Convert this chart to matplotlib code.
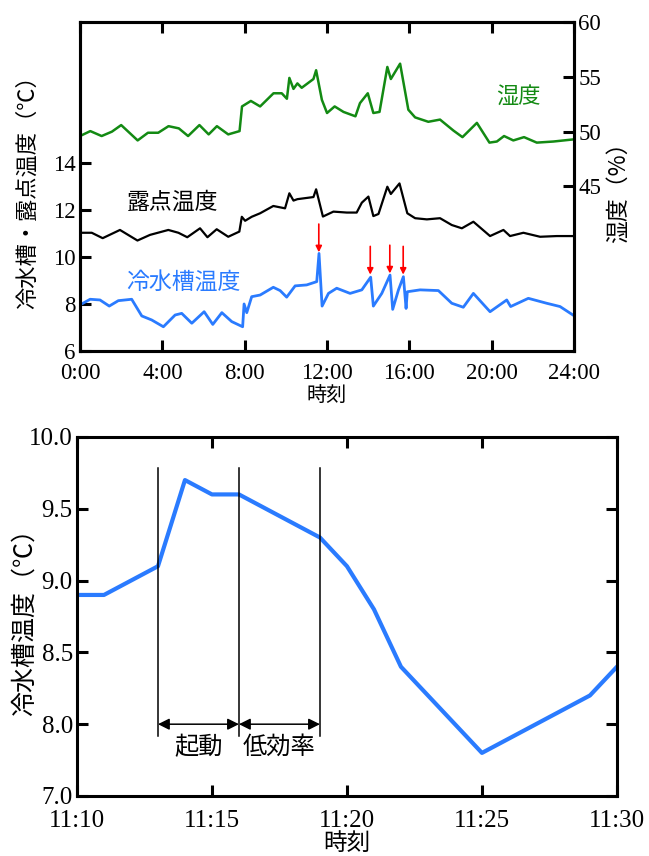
import matplotlib
matplotlib.use("Agg")
import matplotlib.pyplot as plt

JP = ["Noto Sans CJK JP", "DejaVu Sans"]
plt.rcParams["font.family"] = ["Liberation Serif", "DejaVu Serif"]

# --- top chart data (hours, values) ---
hum_t = [0, 0.5, 1.05, 1.55, 2.0, 2.8, 3.3, 3.8, 4.3, 4.8, 5.25, 5.8, 6.25, 6.65, 7.2,
         7.75, 7.87, 8.3, 8.75, 9.4, 9.8, 10.05, 10.17, 10.37, 10.56, 10.77, 11.34, 11.47,
         11.75, 12.0, 12.37, 12.8, 13.38, 13.6, 13.98, 14.25, 14.55, 14.93, 15.1, 15.55,
         15.95, 16.28, 16.92, 17.49, 18.14, 18.58, 19.28, 19.89, 20.25, 20.6, 21.05, 21.57,
         22.19, 23.0, 24.0]
hum_v = [49.6, 50.05, 49.6, 50.0, 50.6, 49.2, 49.9, 49.9, 50.5, 50.3, 49.6, 50.6, 49.75,
         50.5, 49.75, 50.05, 52.3, 52.8, 52.3, 53.5, 53.5, 53.0, 54.9, 53.9, 54.4, 54.0,
         54.8, 55.6, 52.9, 51.7, 52.3, 51.8, 51.4, 52.6, 53.5, 51.7, 51.8, 55.9, 54.8, 56.2,
         52.0, 51.3, 50.9, 51.1, 50.1, 49.5, 50.8, 49.0, 49.1, 49.6, 49.2, 49.5, 49.0, 49.1,
         49.3]

dew_t = [0, 0.57, 1.1, 1.94, 2.79, 3.4, 4.29, 4.78, 5.21, 5.83, 6.19, 6.64, 7.2, 7.74,
         7.86, 8.02, 8.34, 8.75, 9.39, 9.96, 10.17, 10.37, 10.56, 11.34, 11.47, 11.8, 12.31,
         12.96, 13.44, 13.69, 14.01, 14.25, 14.5, 14.93, 15.1, 15.52, 15.9, 16.28, 16.85,
         17.49, 18.06, 18.55, 19.11, 19.92, 20.57, 20.89, 21.54, 22.35, 23.16, 24.0]
dew_v = [11.03, 11.03, 10.8, 11.15, 10.7, 10.94, 11.15, 11.03, 10.84, 11.22, 10.84, 11.18,
         10.86, 11.08, 11.71, 11.54, 11.71, 11.86, 12.17, 12.07, 12.71, 12.4, 12.46, 12.55,
         12.88, 11.72, 11.93, 11.89, 11.89, 12.31, 12.57, 11.74, 11.83, 12.99, 12.68, 13.13,
         11.86, 11.65, 11.6, 11.65, 11.36, 11.22, 11.5, 10.89, 11.15, 10.89, 11.03, 10.86,
         10.89, 10.89]

wat_t = [0, 0.49, 0.97, 1.42, 1.86, 2.51, 3.0, 3.48, 4.05, 4.62, 4.94, 5.43, 6.03, 6.45,
         6.89, 7.37, 7.9, 7.97, 8.1, 8.34, 8.75, 9.39, 9.72, 10.04, 10.45, 11.01, 11.5,
         11.61, 11.76, 12.07, 12.47, 13.12, 13.69, 14.12, 14.25, 14.66, 15.06, 15.19, 15.47,
         15.71, 15.84, 15.9, 16.52, 17.41, 18.06, 18.62, 19.11, 19.92, 20.73, 20.92, 21.78,
         22.67, 23.32, 24.0]
wat_v = [7.96, 8.2, 8.17, 7.91, 8.14, 8.2, 7.49, 7.32, 7.03, 7.53, 7.6, 7.18, 7.67, 7.13,
         7.63, 7.25, 7.03, 8.0, 7.63, 8.31, 8.38, 8.71, 8.57, 8.29, 8.77, 8.81, 8.95, 10.15,
         7.91, 8.45, 8.67, 8.45, 8.6, 9.14, 7.91, 8.45, 9.23, 7.77, 8.6, 9.16, 7.81, 8.52,
         8.6, 8.57, 8.03, 7.86, 8.45, 7.67, 8.17, 7.89, 8.24, 8.03, 7.89, 7.5]

arrow_t = [11.6, 14.1, 15.05, 15.7]
arrow_tip = [10.2, 9.25, 9.3, 9.25]

top_xticks = [0, 4, 8, 12, 16, 20, 24]
top_xlabels = ["0:00", "4:00", "8:00", "12:00", "16:00", "20:00", "24:00"]

# --- bottom chart data (minutes after 11:10) ---
bt_t = [0, 1, 3, 4, 5, 6, 9, 10, 11, 12, 15, 19, 20]
bt_v = [8.9, 8.9, 9.1, 9.7, 9.6, 9.6, 9.3, 9.1, 8.8, 8.4, 7.8, 8.2, 8.4]
phase_t = [3, 6, 9]
phase_names = ["起動", "低効率"]
bot_xticks = [0, 5, 10, 15, 20]
bot_xlabels = ["11:10", "11:15", "11:20", "11:25", "11:30"]
bot_yticks = [7.5, 8.0, 8.5, 9.0, 9.5, 10.0]
bot_ylabels = ["7.0", "8.0", "8.5", "9.0", "9.5", "10.0"]

GREEN = "#138a13"
BLUE = "#2a7bff"

fig = plt.figure(figsize=(6.49, 8.56), dpi=100)


def style(ax, size, xpad):
    for s in ax.spines.values():
        s.set_linewidth(2.2)
    ax.tick_params(direction="in", length=8, width=2.2, labelsize=size, pad=3)
    ax.tick_params(axis="x", pad=xpad)


# ---------------- top chart ----------------
ax = fig.add_axes([0.1233, 0.5900, 0.7612, 0.3843])
ax2 = ax.twinx()

ax.plot(dew_t, dew_v, color="black", lw=1.6)
ax.plot(wat_t, wat_v, color=BLUE, lw=2.0)
ax2.plot(hum_t, hum_v, color=GREEN, lw=1.8)

for t, tip in zip(arrow_t, arrow_tip):
    ax.annotate("", xy=(t, tip), xytext=(t, tip + 1.2),
                arrowprops=dict(arrowstyle="-|>", color="red", lw=1.2,
                                mutation_scale=9, shrinkA=0, shrinkB=0))

ax.set_xlim(0, 24)
ax.set_ylim(6, 20)
ax2.set_ylim(30, 60)
ax.set_xticks(top_xticks)
ax.set_xticklabels(top_xlabels)
ax.set_yticks([6, 8, 10, 12, 14])
ax2.set_yticks([45, 50, 55, 60])
style(ax, 16.5, 8.5)
style(ax2, 16.5, 8.5)
ax.tick_params(top=True)
ax.set_xlabel("時刻", family=JP, fontsize=14.5, labelpad=1)
ax.set_ylabel("冷水槽・露点温度（℃）", family=JP, fontsize=16, labelpad=10)
ax2.set_ylabel("湿度（%）", family=JP, fontsize=16.5, labelpad=4)

ax2.text(21.3, 53.2, "湿度", family=JP, fontsize=16, color=GREEN, ha="center", va="center")
ax.text(4.47, 12.34, "露点温度", family=JP, fontsize=16.5, color="black", ha="center", va="center")
ax.text(5.0, 8.94, "冷水槽温度", family=JP, fontsize=16.5, color=BLUE, ha="center", va="center")

# ---------------- bottom chart ----------------
bx = fig.add_axes([0.1186, 0.0701, 0.8320, 0.4194])
bx.plot(bt_t, bt_v, color=BLUE, lw=3)
for t in phase_t:
    bx.plot([t, t], [7.92, 9.785], color="black", lw=1.1)
for i, name in enumerate(phase_names):
    a, b = phase_t[i], phase_t[i + 1]
    bx.annotate("", xy=(a, 8.0), xytext=(b, 8.0),
                arrowprops=dict(arrowstyle="<|-|>", color="black", lw=1.1,
                                mutation_scale=17, shrinkA=0, shrinkB=0))
    bx.text((a + b) / 2, 7.84, name, family=JP, fontsize=17.5, ha="center", va="center")

bx.set_xlim(0, 20)
bx.set_ylim(7.5, 10.0)
bx.set_xticks(bot_xticks)
bx.set_xticklabels(bot_xlabels)
bx.set_yticks(bot_yticks)
bx.set_yticklabels(bot_ylabels)
style(bx, 18, 10)
bx.tick_params(top=True, right=True)
bx.set_xlabel("時刻", family=JP, fontsize=17, labelpad=0)
bx.set_ylabel("冷水槽温度（℃）", family=JP, fontsize=18, labelpad=-6)

fig.savefig("out.png", dpi=100)
